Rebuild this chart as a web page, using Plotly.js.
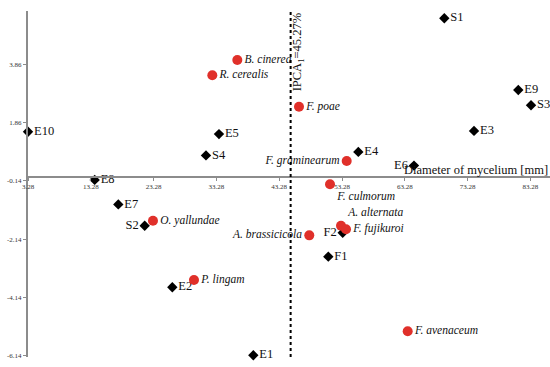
<!DOCTYPE html>
<html>
<head>
<meta charset="utf-8">
<script src="https://cdn.plot.ly/plotly-3.0.1.min.js"></script>
<style>html,body{margin:0;padding:0;background:#fff;}#chart{width:550px;height:367px;}</style>
</head>
<body>
<div id="chart"></div>
<script>
// Pathogens (red circles)
var pathNames = ["S. sclerotiorum","B. cinerea","R. cerealis","F. poae","F. graminearum","F. culmorum","A. alternata","F. fujikuroi","A. brassicicola","F. avenaceum","O. yallundae","P. lingam"];
var pathX = [47.91, 36.61, 32.63, 46.43, 54.03, 51.37, 53.12, 53.92, 48.07, 63.74, 23.18, 29.71];
var pathY = [5.69, 4.00, 3.48, 2.40, 0.54, -0.26, -1.68, -1.80, -2.01, -5.30, -1.51, -3.54];
var pathPos = ["middle right","middle right","middle right","middle right","middle left","bottom right","top right","middle right","middle left","middle right","middle right","middle right"];

// Extracts / samples (black diamonds)
var sampNames = ["S1","E9","S3","E3","E4","E6","E10","E5","S4","E8","E7","S2","E2","E1","F2","F1"];
var sampX = [69.57, 81.35, 83.38, 74.30, 55.88, 64.74, 3.28, 33.69, 31.62, 13.90, 17.66, 21.86, 26.26, 39.16, 53.39, 51.10];
var sampY = [5.43, 2.97, 2.45, 1.57, 0.85, 0.38, 1.54, 1.46, 0.73, -0.11, -0.95, -1.68, -3.79, -6.12, -1.92, -2.74];
var sampPos = ["middle right","middle right","middle right","middle right","middle right","middle left","middle right","middle right","middle right","middle right","middle right","middle left","middle right","middle right","middle left","middle right"];

// Axis ticks
var xTickVals = [3.28, 13.28, 23.28, 33.28, 43.28, 53.28, 63.28, 73.28, 83.28];
var xTickText = ["3.28","13.28","23.28","33.28","43.28","53.28","63.28","73.28","83.28"];
var yTickVals = [-6.14, -4.14, -2.14, -0.14, 1.86, 3.86];
var yTickText = ["-6.14","-4.14","-2.14","-0.14","1.86","3.86"];

var meanDiameter = 45.1;
var xRange = [3.28, 86.4];
var yRange = [-6.18, 5.68];

var serif = "'Liberation Serif', 'Times New Roman', Times, serif";

var traces = [
  {
    type: "scatter", mode: "markers+text",
    x: sampX, y: sampY, text: sampNames, textposition: sampPos,
    marker: {symbol: "diamond", size: 8, color: "#000"},
    textfont: {family: serif, size: 12.5, color: "#111"},
    cliponaxis: false, hoverinfo: "skip"
  },
  {
    type: "scatter", mode: "markers+text",
    x: pathX, y: pathY, text: pathNames, textposition: pathPos,
    texttemplate: "<i>%{text}</i>",
    marker: {symbol: "circle", size: 10, color: "#e0302a"},
    textfont: {family: serif, size: 11.5, color: "#111"},
    cliponaxis: false, hoverinfo: "skip"
  }
];

var layout = {
  width: 550, height: 367,
  margin: {l: 28, r: 0, t: 11, b: 10, pad: 0},
  paper_bgcolor: "#fff", plot_bgcolor: "#fff",
  showlegend: false,
  font: {family: serif},
  xaxis: {
    range: xRange, anchor: "free",
    position: (0 - yRange[0]) / (yRange[1] - yRange[0]),
    showgrid: false, zeroline: false,
    showline: true, linecolor: "#8c8c8c", linewidth: 2,
    ticks: "outside", ticklen: 3, tickcolor: "#8c8c8c", tickwidth: 1,
    tickmode: "array", tickvals: xTickVals, ticktext: xTickText,
    tickfont: {family: serif, size: 7, color: "#333"}
  },
  yaxis: {
    range: yRange,
    showgrid: false, zeroline: false,
    showline: true, linecolor: "#8c8c8c", linewidth: 2,
    ticks: "outside", ticklen: 3, tickcolor: "#8c8c8c", tickwidth: 1,
    tickmode: "array", tickvals: yTickVals, ticktext: yTickText,
    tickfont: {family: serif, size: 7, color: "#333"}
  },
  shapes: [
    {type: "line", xref: "x", yref: "paper", x0: meanDiameter, x1: meanDiameter, y0: 0, y1: 1,
     line: {color: "#000", width: 2, dash: "dot"}}
  ],
  annotations: [
    {xref: "x", yref: "y", x: meanDiameter, y: 4.25, xshift: 7, textangle: -90,
     text: "IPCA<sub>1</sub>=45.27%", showarrow: false, xanchor: "center", yanchor: "middle",
     font: {family: serif, size: 12.5, color: "#111"}},
    {xref: "paper", yref: "y", x: 1, y: 0, xanchor: "right", yanchor: "bottom", yshift: -2,
     text: "Diameter of mycelium [mm]", showarrow: false,
     font: {family: serif, size: 12.5, color: "#111"}}
  ]
};

Plotly.newPlot("chart", traces, layout, {staticPlot: true, displayModeBar: false});
</script>
</body>
</html>
